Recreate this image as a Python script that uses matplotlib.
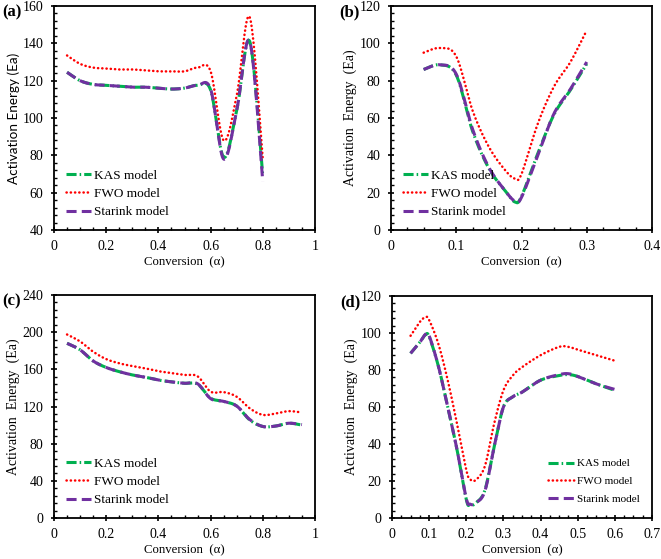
import numpy as np
import matplotlib.pyplot as plt
from matplotlib.ticker import MultipleLocator

plt.rcParams['font.family'] = ['Liberation Serif', 'DejaVu Serif']

# panel (a)
xa = [0.05, 0.1, 0.15, 0.2, 0.25, 0.3, 0.35, 0.4, 0.45, 0.5, 0.55, 0.6, 0.65, 0.7, 0.75, 0.8]
kas_a = [124.5, 120, 118, 117.5, 117, 116.5, 116.5, 116, 115.5, 116, 117.5, 115, 79, 104, 141, 69]
fwo_a = [133.5, 129, 127, 126.5, 126, 126, 125.5, 125, 125, 125, 127, 125, 88, 112, 154, 78]
sta_a = [124.5, 120, 118, 117.5, 117, 116.5, 116.5, 116, 115.5, 116, 117.5, 115.5, 78, 104, 141, 66]

# panel (b)
xb = [0.05, 0.075, 0.1, 0.125, 0.15, 0.175, 0.19, 0.2, 0.225, 0.25, 0.275, 0.3]
kas_b = [86, 88.5, 83, 53, 33, 21, 15, 18, 41, 62, 75, 89]
fwo_b = [95, 97.5, 93, 64, 44.5, 32, 27.5, 30, 57, 77, 90, 107]
sta_b = [86, 88.5, 83.5, 54, 33.5, 21, 15.5, 17.5, 40, 62.5, 75.5, 90]

# panel (c)
xc = [0.05, 0.1, 0.15, 0.2, 0.25, 0.3, 0.35, 0.4, 0.45, 0.5, 0.55, 0.6, 0.65, 0.7, 0.75, 0.8, 0.85, 0.9, 0.95]
kas_c = [188, 181, 169, 162, 157.5, 154, 151.5, 148.5, 146.5, 145, 144, 129, 125.5, 120.5, 105.5, 98.5, 99, 102, 100]
fwo_c = [197.5, 190, 179, 171, 166.5, 163.5, 161, 158, 156, 154, 152.5, 136, 135.5, 130.5, 118, 111, 112.5, 115, 113.5]
sta_c = [188, 181, 169, 162, 157.5, 154, 151.5, 148.5, 146.5, 145, 144.5, 128.5, 125.5, 120.5, 106, 98.5, 99, 102, 100.5]

# panel (d)
xd = [0.05, 0.075, 0.09, 0.1, 0.125, 0.15, 0.175, 0.2, 0.21, 0.225, 0.25, 0.275, 0.3, 0.325, 0.35, 0.4, 0.45, 0.475, 0.5, 0.55, 0.6]
kas_d = [89, 95, 99, 98, 82, 60, 37, 10, 7, 8, 15, 38.5, 60, 65.5, 68, 74.5, 77, 77.5, 76.5, 72.5, 69]
fwo_d = [98.5, 106, 108.5, 107, 94, 74.5, 51, 26, 21, 20.5, 28, 51, 69, 77, 81.5, 88, 92.5, 92.5, 91, 88, 85]
sta_d = [89, 95, 99.3, 98.5, 82, 60, 37, 10.5, 7.5, 8, 14.5, 38.5, 60, 65.5, 68, 74.5, 77.5, 78, 76.5, 72.5, 69.5]


def smooth(x, y, n=20):
    # Catmull-Rom through the points, like an Excel smoothed line
    p = np.column_stack([x, y]).astype(float)
    p = np.vstack([p[0], p, p[-1]])
    t = np.linspace(0, 1, n, endpoint=False)[:, None]
    out = []
    for i in range(1, len(p) - 2):
        p0, p1, p2, p3 = p[i - 1], p[i], p[i + 1], p[i + 2]
        out.append(0.5 * (2 * p1 + (-p0 + p2) * t + (2 * p0 - 5 * p1 + 4 * p2 - p3) * t ** 2
                          + (-p0 + 3 * p1 - 3 * p2 + p3) * t ** 3))
    out.append(p[-2][None, :])
    out = np.vstack(out)
    return out[:, 0], out[:, 1]


fig = plt.figure(figsize=(6.61, 5.59), dpi=100)
W, H = 661, 559
boxes = [(54, 6, 315, 230), (391, 6, 652, 230), (54, 295, 315, 518), (392, 296, 652, 518)]
axes = [fig.add_axes([l / W, 1 - b / H, (r - l) / W, (b - t) / H]) for l, t, r, b in boxes]

panels = [
    ("(a)", xa, kas_a, fwo_a, sta_a, (0, 1), 0.2, 0.05, (40, 160), 20, 4),
    ("(b)", xb, kas_b, fwo_b, sta_b, (0, 0.4), 0.1, 0.025, (0, 120), 20, 4),
    ("(c)", xc, kas_c, fwo_c, sta_c, (0, 1), 0.2, 0.05, (0, 240), 40, 8),
    ("(d)", xd, kas_d, fwo_d, sta_d, (0, 0.7), 0.1, 0.025, (0, 120), 20, 4),
]

for i, (ax, (lab, x, kas, fwo, sta, xl, xmaj, xmin, yl, ymaj, ymin)) in enumerate(zip(axes, panels)):
    sx, sy = smooth(x, kas)
    ax.plot(sx, sy, color='#00b050', lw=2.2, linestyle=(0, (3.3, 1.0, 0.5, 1.0)), label='KAS model')
    sx, sy = smooth(x, fwo)
    ax.plot(sx, sy, color='#ff0000', lw=1.8, linestyle=(0, (0.1, 1.6)), dash_capstyle='round',
            label='FWO model')
    sx, sy = smooth(x, sta)
    ax.plot(sx, sy, color='#7030a0', lw=2.2, linestyle=(0, (3.3, 1.7)), label='Starink model')

    ax.set_xlim(*xl)
    ax.set_ylim(*yl)
    ax.xaxis.set_major_locator(MultipleLocator(xmaj))
    ax.xaxis.set_minor_locator(MultipleLocator(xmin))
    ax.yaxis.set_major_locator(MultipleLocator(ymaj))
    ax.yaxis.set_minor_locator(MultipleLocator(ymin))
    ax.xaxis.set_major_formatter(plt.FuncFormatter(lambda v, p: f"{v:g}"))
    ax.tick_params(which='major', direction='inout', length=5, width=1.2, labelsize=10, pad=5)
    ax.tick_params(which='minor', direction='in', length=2.5, width=1)
    for s in ax.spines.values():
        s.set_linewidth(1.3)
    ax.set_xlabel('Conversion  (α)', fontsize=9.2, labelpad=2)
    if i == 0:
        ax.set_ylabel('Activation Energy (Ea)', fontsize=9.7, family=['Lato', 'DejaVu Sans'], labelpad=2)
    else:
        ax.set_ylabel('Activation  Energy  (Ea)', fontsize=10, labelpad=2)
    ax.text(-0.2, 1.005, lab, transform=ax.transAxes, fontsize=12, fontweight='bold', va='top', ha='left')

    if i == 3:
        ax.legend(loc='lower right', bbox_to_anchor=(0.99, 0.02), frameon=False, fontsize=8,
                  handlelength=2.3, handletextpad=0.25, labelspacing=0.7)
    else:
        ax.legend(loc='lower left', bbox_to_anchor=(0.0, 0.0), frameon=False, fontsize=9.5,
                  handlelength=1.9, handletextpad=0.2, labelspacing=0.45)

fig.savefig('out.png', dpi=100)
